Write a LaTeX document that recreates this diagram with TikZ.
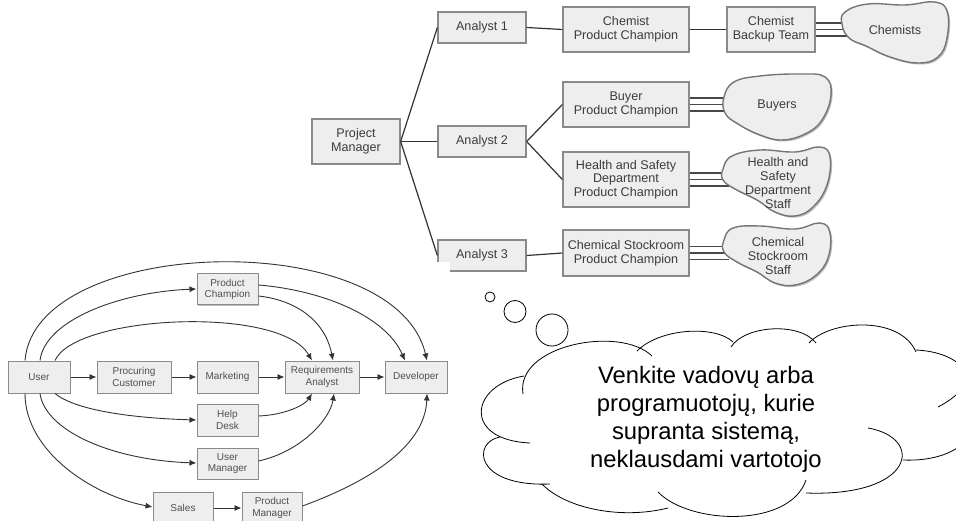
\documentclass[tikz,border=0pt]{standalone}
\usepackage{fontspec}
\setmainfont{Liberation Sans}
\usetikzlibrary{arrows.meta,shadows,calc}
\definecolor{boxfill}{HTML}{EEEEEE}
\definecolor{boxline}{HTML}{8A8A8A}
\definecolor{txt}{HTML}{3C3C3C}
\definecolor{gtxt}{HTML}{505050}
\definecolor{conn}{HTML}{333333}
\definecolor{shadowc}{HTML}{B4B4B4}
\tikzset{
  tbox/.style={draw=boxline, fill=boxfill, line width=1.3pt, text=txt,
    font=\fontsize{12.6}{13.6}\selectfont, align=center, inner sep=0pt,
    drop shadow={shadow xshift=1.3pt, shadow yshift=-1.3pt, fill=shadowc, opacity=0.9}},
  gbox/.style={draw=boxline, fill=boxfill, line width=1pt, text=gtxt,
    font=\fontsize{10}{11.6}\selectfont, align=center, inner sep=0pt,
    drop shadow={shadow xshift=1pt, shadow yshift=-1pt, fill=shadowc, opacity=0.9}},
  tline/.style={draw=conn, line width=1.2pt},
  triline/.style={draw=conn!90, line width=1.1pt},
  garrow/.style={draw=conn, line width=0.9pt, -{Latex[length=7pt,width=6pt]}},
  blob/.style={fill=boxfill, draw=boxline!85!black, line width=1.4pt,
    drop shadow={shadow xshift=1.5pt, shadow yshift=-1.5pt, fill=shadowc, opacity=0.9}},
  bloblabel/.style={text=txt, font=\fontsize{12.6}{13.7}\selectfont, align=center, inner sep=0pt},
  cloudline/.style={draw=black, line width=0.8pt},
  bubble/.style={circle, draw=black, line width=0.8pt, inner sep=0pt},
}
\begin{document}
\begin{tikzpicture}[x=1pt,y=-1pt]
\useasboundingbox (0,0) rectangle (956,521);
\begin{scope}
\clip (0,0) rectangle (956,521);
\fill[white] (0,0) rectangle (956,521);

% ---------- top tree ----------
\node[tbox, minimum width=88pt, minimum height=45pt] (pm) at (356,141.5) {Project\\Manager};
\node[tbox, minimum width=88pt, minimum height=31pt] (an1) at (482,27.5) {Analyst 1};
\node[tbox, minimum width=88pt, minimum height=31pt] (an2) at (482,141.5) {Analyst 2};
\node[tbox, minimum width=88pt, minimum height=31pt] (an3) at (482,255.5) {Analyst 3};
\node[tbox, minimum width=126pt, minimum height=45pt] (cpc) at (626,29.5) {Chemist\\Product Champion};
\node[tbox, minimum width=88pt, minimum height=45pt] (cbt) at (771,29.5) {Chemist\\Backup Team};
\node[tbox, minimum width=126pt, minimum height=45pt] (bpc) at (626,104.5) {Buyer\\Product Champion};
\node[tbox, minimum width=126pt, minimum height=55pt] (hpc) at (626,179.5) {Health and Safety\\Department\\Product Champion};
\node[tbox, minimum width=126pt, minimum height=46pt] (spc) at (626,253) {Chemical Stockroom\\Product Champion};

\draw[tline] (pm.east) -- (an1.west);
\draw[tline] (pm.east) -- (an2.west);
\draw[tline] (pm.east) -- (an3.west);
\draw[tline] (an1.east) -- (cpc.west);
\draw[tline] (cpc.east) -- (cbt.west);
\draw[tline] (an2.east) -- (bpc.west);
\draw[tline] (an2.east) -- (hpc.west);
\draw[tline] (an3.east) -- (spc.west);

\coordinate (chemL) at (850,29.5);
\coordinate (buyL) at (729,104.5);
\coordinate (hsdL) at (729,179.5);
\coordinate (cssL) at (729,253);
\foreach \d in {-6.5,0,6.5}{
  \draw[triline] ([yshift=\d pt]cbt.east) -- ([yshift=\d pt]cbt.east -| chemL);
  \draw[triline] ([yshift=\d pt]bpc.east) -- ([yshift=\d pt]bpc.east -| buyL);
  \draw[triline] ([yshift=\d pt]hpc.east) -- ([yshift=\d pt]hpc.east -| hsdL);
  \draw[triline] ([yshift=\d pt]spc.east) -- ([yshift=\d pt]spc.east -| cssL);
}

\draw[blob] plot[smooth cycle, tension=0.7] coordinates {(845,12) (868,4) (905,5) (934,2) (947,11) (947,38) (938,57) (918,63) (890,57) (866,46) (849,38) (842,24)};
\node[bloblabel] (chem) at (895,30) {Chemists};
\draw[blob] plot[smooth cycle, tension=0.7] coordinates {(724,97) (734,82) (760,76) (800,74) (825,77) (831,95) (822,120) (805,134) (782,140) (760,135) (738,124) (725,113)};
\node[bloblabel] (buy) at (777,105) {Buyers};
\draw[blob] plot[smooth cycle, tension=0.7] coordinates {(723,169) (732,156) (760,150) (795,152) (820,147) (830,157) (827,185) (813,207) (795,216) (775,212) (757,200) (735,189) (723,180)};
\node[bloblabel] (hsds) at (778,183) {Health and\\Safety\\Department\\Staff};
\draw[blob] plot[smooth cycle, tension=0.7] coordinates {(724,240) (733,228) (760,226) (795,229) (820,223) (830,233) (828,258) (815,276) (795,285) (775,283) (757,272) (737,262) (724,252)};
\node[bloblabel] (css) at (778,256) {Chemical\\Stockroom\\Staff};

% white ground of the lower picture
\fill[white] (0,262) rectangle (450,521);

% ---------- lower graph ----------
\node[gbox, minimum width=62pt, minimum height=32pt] (user) at (39,377) {User};
\node[gbox, minimum width=74pt, minimum height=32pt] (pcust) at (134,377) {Procuring\\Customer};
\node[gbox, minimum width=61pt, minimum height=31pt] (pchamp) at (227.5,289.5) {Product\\Champion};
\node[gbox, minimum width=61pt, minimum height=32pt] (mkt) at (227.5,377) {Marketing};
\node[gbox, minimum width=61pt, minimum height=32pt] (helpd) at (227.5,420) {Help\\Desk};
\node[gbox, minimum width=61pt, minimum height=31pt] (umgr) at (227.5,463.5) {User\\Manager};
\node[gbox, minimum width=60pt, minimum height=32pt] (sales) at (183,508) {Sales};
\node[gbox, minimum width=60pt, minimum height=32pt] (pmgr) at (272,508) {Product\\Manager};
\node[gbox, minimum width=74pt, minimum height=32pt] (reqa) at (322,377) {Requirements\\Analyst};
\node[gbox, minimum width=62pt, minimum height=32pt] (dev) at (416,377) {Developer};

\draw[garrow] (user.east) -- (pcust.west);
\draw[garrow] (pcust.east) -- (mkt.west);
\draw[garrow] (mkt.east) -- (reqa.west);
\draw[garrow] (reqa.east) -- (dev.west);
\draw[garrow] (sales.east) -- (pmgr.west);

\draw[garrow] ([xshift=-14pt]user.north) .. controls (35,235) and (395,225) .. ([xshift=11pt]dev.north);
\draw[garrow] ([xshift=1pt]user.north) .. controls (45,320) and (120,292) .. ([yshift=0.5pt]pchamp.west);
\draw[garrow] ([xshift=16pt]user.north) .. controls (75,315) and (280,305) .. ([xshift=-10pt]reqa.north);
\draw[garrow] ([yshift=4.5pt]pchamp.east) .. controls (320,290) and (385,315) .. ([xshift=-11pt]dev.north);
\draw[garrow] ([yshift=-6.5pt]pchamp.east) .. controls (295,300) and (325,320) .. ([xshift=11pt]reqa.north);
\draw[garrow] ([xshift=16pt]user.south) .. controls (75,410) and (130,418) .. (helpd.west);
\draw[garrow] ([xshift=1pt]user.south) .. controls (45,430) and (110,460) .. ([yshift=0.5pt]umgr.west);
\draw[garrow] ([xshift=-14pt]user.south) .. controls (25,450) and (90,495) .. ([yshift=1pt]sales.west);
\draw[garrow] ([yshift=4pt]helpd.east) .. controls (285,415) and (305,405) .. ([xshift=-10pt]reqa.south);
\draw[garrow] ([yshift=2.5pt]umgr.east) .. controls (300,452) and (330,420) .. ([xshift=12pt]reqa.south);
\draw[garrow] ([yshift=2pt]pmgr.east) .. controls (360,485) and (425,450) .. ([xshift=11pt]dev.south);

% ---------- thought cloud ----------
\node[bubble, minimum size=10pt] (b1) at (490,297) {};
\node[bubble, minimum size=22pt] (b2) at (515,311.5) {};
\node[bubble, minimum size=32pt] (b3) at (552,330) {};

\draw[cloudline] (523,394) .. controls (515,345) and (620,325) .. (652,356);
\draw[cloudline] (637,351) .. controls (660,328) and (715,325) .. (733,342);
\draw[cloudline] (731,347) .. controls (745,325) and (800,322) .. (816,343);
\draw[cloudline] (809,343) .. controls (830,320) and (900,315) .. (916,352);
\draw[cloudline] (916,350) .. controls (960,352) and (990,380) .. (938,407);
\draw[cloudline] (975,400) .. controls (985,440) and (950,462) .. (903,460);
\draw[cloudline] (868,428) .. controls (925,438) and (915,497) .. (806,493);
\draw[cloudline] (658,492) .. controls (690,525) and (790,528) .. (806,480);
\draw[cloudline] (542,484) .. controls (565,508) and (620,520) .. (668,508);
\draw[cloudline] (500,437) .. controls (472,442) and (474,487) .. (550,484);
\draw[cloudline] (524,376) .. controls (470,385) and (462,440) .. (530,443);

\node[text=black, font=\fontsize{23.8}{28}\selectfont, align=center, inner sep=0pt] (thought) at (706,419)
  {Venkite vadovų arba\\programuotojų, kurie\\supranta sistemą,\\neklausdami vartotojo};
\end{scope}
\end{tikzpicture}
\end{document}
